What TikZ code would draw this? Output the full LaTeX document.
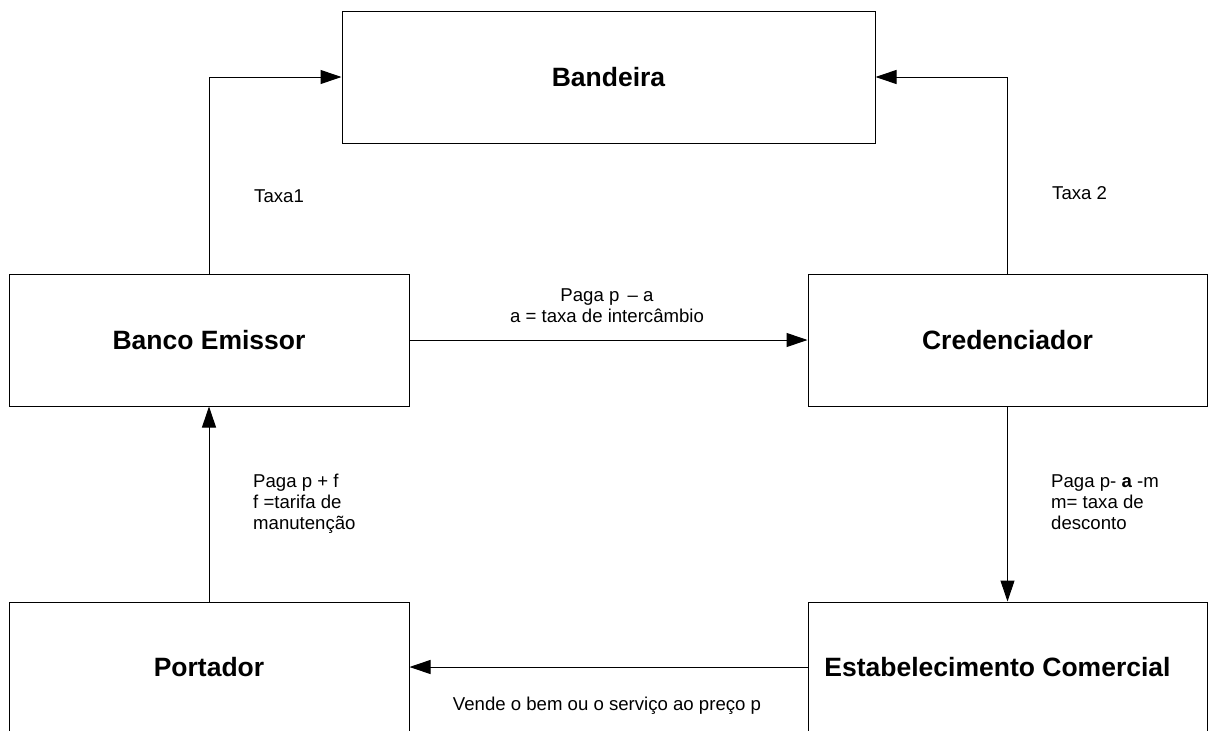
\documentclass[tikz,border=0pt]{standalone}
\usepackage{fontspec}
\setmainfont{Liberation Sans}
\usetikzlibrary{arrows.meta}
\begin{document}
\begin{tikzpicture}[x=1pt,y=-1pt,
  box/.style={draw, line width=1pt, inner sep=0pt, font={\bfseries\fontsize{26.5}{30}\selectfont}},
  lbl/.style={inner sep=0pt, font={\fontsize{18.6}{21}\selectfont}},
  arr/.style={line width=1pt, -{Triangle[length=21pt,width=14pt]}}]
\useasboundingbox (0,0) rectangle (1208,731);
\node[box, minimum width=533pt, minimum height=132pt] (ba) at (608.5,77) {Bandeira};
\node[box, minimum width=400pt, minimum height=132pt] (be) at (209,340) {Banco Emissor};
\node[box, minimum width=399pt, minimum height=132pt] (cr) at (1007.5,340) {Credenciador};
\node[box, minimum width=400pt, minimum height=130pt] (po) at (209,667) {Portador};
\node[box, minimum width=399pt, minimum height=130pt] (ec) at (1007.5,667) {\hspace*{-20pt}Estabelecimento Comercial};
\draw[arr] (be.north) |- (ba.west);
\draw[arr] (cr.north) |- (ba.east);
\draw[arr] (be.east) -- (cr.west);
\draw[arr] (cr.south) -- (ec.north);
\draw[arr] (po.north) -- (be.south);
\draw[arr] (ec.west) -- (po.east);
\node[lbl, anchor=base west] (t1) at (254,202) {Taxa1};
\node[lbl, anchor=base west] (t2) at (1052,199) {Taxa 2};
\node[lbl, anchor=north, align=center] (pa) at (607,288) {Paga p \,– a\\a = taxa de intercâmbio};
\node[lbl, anchor=north west, align=left] (pf) at (253,474) {Paga p + f\\f =tarifa de\\manutenção};
\node[lbl, anchor=north west, align=left] (pm) at (1051,474) {Paga p- \textbf{a} -m\\m= taxa de\\desconto};
\node[lbl, anchor=base] (vd) at (607,710) {Vende o bem ou o serviço ao preço p};
\end{tikzpicture}
\end{document}
